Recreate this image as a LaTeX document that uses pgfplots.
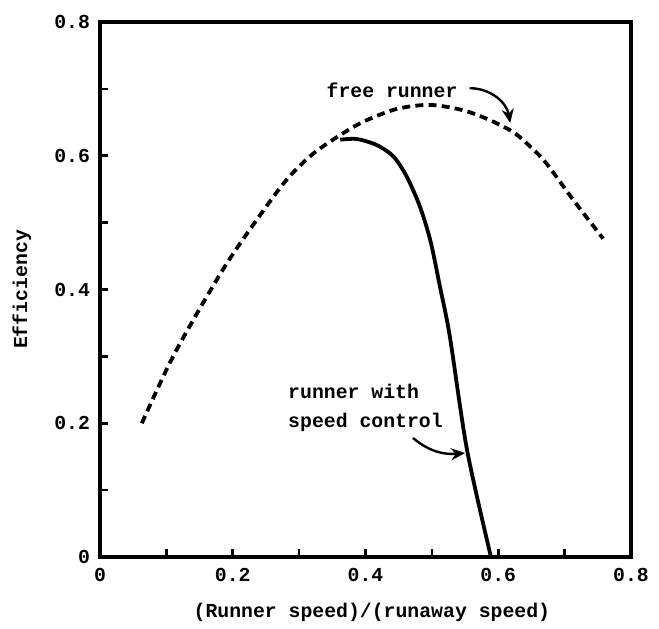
\documentclass[border=0pt]{standalone}
\usepackage{fontspec}
\setmainfont{Liberation Mono}
\usepackage{pgfplots}
\pgfplotsset{compat=1.18}
\usetikzlibrary{arrows.meta}
\begin{document}
\begin{tikzpicture}
\newcommand{\ff}{\bfseries\fontsize{9.9}{12}\selectfont}
\begin{axis}[
  name=ax,
  scale only axis,
  width=265.5pt, height=267.5pt,
  xmin=0, xmax=0.8, ymin=0, ymax=0.8,
  xtick={0,0.2,0.4,0.6,0.8},
  ytick={0,0.2,0.4,0.6,0.8},
  xticklabels={0,0.2,0.4,0.6,0.8},
  yticklabels={0,0.2,0.4,0.6,0.8},
  minor x tick num=1, minor y tick num=1,
  xtick pos=bottom, ytick pos=left,
  tick align=inside,
  major tick length=4pt, minor tick length=4pt,
  every tick/.style={black, line width=1.3pt},
  axis line style={line width=1.6pt},
  /pgf/number format/assume math mode=true,
  ticklabel style={font=\ff},
  yticklabel style={xshift=-1.5pt},
  xticklabel style={yshift=-2pt},
  xlabel={(Runner speed)/(runaway speed)},
  ylabel={Efficiency},
  label style={font=\ff},
  xlabel style={at={(axis description cs:0.512,-0.103)}, anchor=center},
  ylabel style={at={(axis description cs:-0.147,0.5)}, anchor=center},
  clip=false,
]
% free runner (dashed)
\addplot[smooth, black, line width=1.9pt, dash pattern=on 4pt off 2.6pt] coordinates {
 (0.063,0.200) (0.105,0.290) (0.146,0.364) (0.191,0.439) (0.236,0.504)
 (0.281,0.564) (0.321,0.603) (0.362,0.631) (0.397,0.651) (0.447,0.670)
 (0.497,0.676) (0.547,0.668) (0.588,0.653) (0.623,0.635) (0.649,0.613)
 (0.673,0.588) (0.713,0.534) (0.758,0.476)
};
% runner with speed control (solid)
\addplot[smooth, tension=0.5, black, line width=1.9pt] coordinates {
 (0.362,0.624) (0.387,0.625) (0.417,0.616) (0.442,0.599) (0.462,0.569)
 (0.482,0.524) (0.498,0.472) (0.512,0.405) (0.527,0.330) (0.553,0.160)
 (0.589,0.0)
};
\node[font=\ff, anchor=center] at (axis cs:0.44,0.698) {free runner};
\node[font=\ff, anchor=west, inner sep=0pt] at (axis cs:0.283,0.247) {runner with};
\node[font=\ff, anchor=west, inner sep=0pt] at (axis cs:0.283,0.202) {speed control};
\draw[line width=1.2pt, -{Stealth[length=7pt,width=6pt]}] (axis cs:0.557,0.701) to[out=0,in=100] (axis cs:0.618,0.649);
\draw[line width=1.2pt, -{Stealth[length=7pt,width=6pt]}] (axis cs:0.4715,0.178) to[out=-40,in=185] (axis cs:0.55,0.1555);
\end{axis}
\path[use as bounding box] ([xshift=-50pt,yshift=-35.5pt]ax.south west) rectangle ([xshift=14pt,yshift=11pt]ax.north east);
\end{tikzpicture}
\end{document}
